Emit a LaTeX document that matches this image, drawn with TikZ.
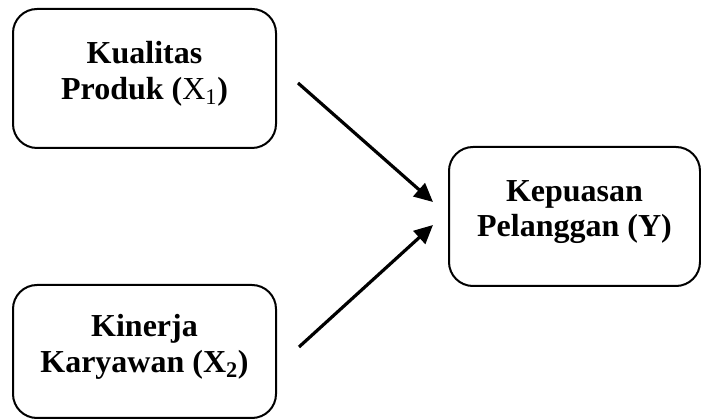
\documentclass[tikz,border=0pt]{standalone}
\usepackage{fontspec}
\setmainfont{Liberation Serif}
\usetikzlibrary{arrows.meta}
\begin{document}
\begin{tikzpicture}[x=0.75pt,y=-0.75pt,
  var/.style={draw=black,line width=1.5pt,rounded corners=18pt,align=center,text depth=12pt,font=\fontsize{24}{26.5}\selectfont\bfseries},
  arr/.style={line width=2.4pt,-{Triangle[length=14pt,width=13pt]}}]
\useasboundingbox (0,0) rectangle (701,420);
\node[var,minimum width=197.25pt,minimum height=104.25pt] (prod) at (144.5,78.5) {Kualitas\\Produk (\textnormal{X\textsubscript{1}})};
\node[var,minimum width=197.25pt,minimum height=99.75pt] (kin) at (144.5,351.5) {Kinerja\\Karyawan (X\textsubscript{2})};
\node[var,minimum width=188.25pt,minimum height=104.25pt] (kep) at (574.5,216.5) {Kepuasan\\Pelanggan (Y)};
\draw[arr] ([shift={(21,4.5)}]prod.east) -- ([shift={(-15,-14.5)}]kep.west);
\draw[arr] ([shift={(22,-4.5)}]kin.east) -- ([shift={(-15,8.5)}]kep.west);
\end{tikzpicture}
\end{document}
